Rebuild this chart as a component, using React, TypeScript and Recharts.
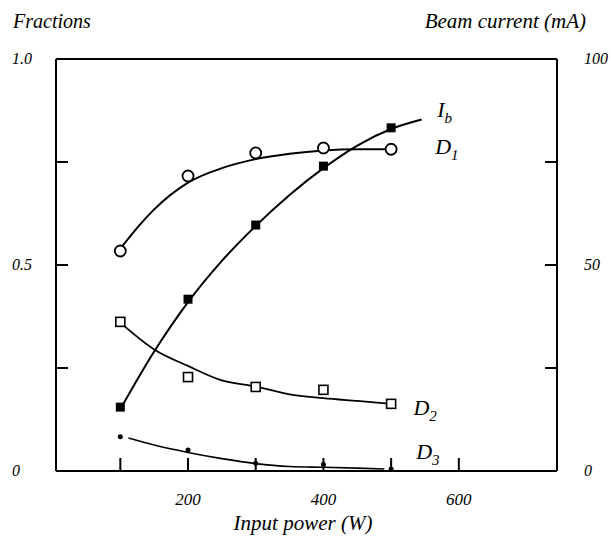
import { ComposedChart, Line, Scatter, XAxis, YAxis, ReferenceLine, ReferenceDot } from "recharts";

// marker positions (x = input power W)
const powers = [100, 200, 300, 400, 500];
const d1Points = [0.534, 0.716, 0.772, 0.784, 0.781];
const d2Points = [0.362, 0.228, 0.204, 0.197, 0.163];
const d3Points = [0.083, 0.051, 0.019, 0.016, 0.005];
const ibPoints = [15.5, 41.7, 59.7, 74.0, 83.3];

// hand-drawn fit curves
const d1CurveW = [100, 130, 150, 200, 250, 300, 350, 400, 450, 500];
const d1CurveV = [0.54, 0.6, 0.635, 0.7, 0.735, 0.757, 0.77, 0.778, 0.781, 0.781];
const ibCurveW = [100, 150, 200, 250, 300, 350, 400, 450, 500, 545];
const ibCurveV = [15, 29, 41, 51, 59.5, 67, 73.5, 79, 83, 85.3];
const d2CurveW = [100, 150, 200, 250, 300, 350, 400, 450, 500];
const d2CurveV = [0.36, 0.295, 0.255, 0.22, 0.205, 0.186, 0.177, 0.17, 0.163];
const d3CurveW = [112, 150, 200, 250, 300, 350, 400, 450, 490];
const d3CurveV = [0.08, 0.063, 0.045, 0.03, 0.018, 0.011, 0.009, 0.007, 0.005];

const xTicks = [100, 200, 300, 400, 500, 600];
const xLabels = [200, 400, 600];
const fracTicks = [0, 0.25, 0.5, 0.75, 1];
const fracLabels: Record<number, string> = { 0: "0", 0.5: "0.5", 1: "1.0" };
const mATicks = [0, 25, 50, 75, 100];
const mALabels: Record<number, string> = { 0: "0", 50: "50", 100: "100" };

const FONT = "'Liberation Serif', 'DejaVu Serif', serif";
const LEFT = 56;
const RIGHT = 557;
const BOTTOM = 471;

const pts = (w: number[], v: number[]) => w.map((x, i) => ({ w: x, v: v[i] }));

const XTick = (p: any) => {
  const val = p.payload.value;
  return (
    <g>
      <line x1={p.x} x2={p.x} y1={BOTTOM} y2={BOTTOM - 13} stroke="#000" strokeWidth={2} />
      {xLabels.includes(val) && (
        <text x={p.x} y={505} textAnchor="middle" fontFamily={FONT} fontStyle="italic" fontSize={17} fill="#000">
          {val}
        </text>
      )}
    </g>
  );
};

const LeftTick = (p: any) => {
  const val = p.payload.value;
  return (
    <g>
      <line x1={LEFT} x2={LEFT + 12} y1={p.y} y2={p.y} stroke="#000" strokeWidth={2} />
      {fracLabels[val] !== undefined && (
        <text x={12} y={p.y + 5} fontFamily={FONT} fontStyle="italic" fontSize={16} fill="#000">
          {fracLabels[val]}
        </text>
      )}
    </g>
  );
};

const RightTick = (p: any) => {
  const val = p.payload.value;
  return (
    <g>
      <line x1={RIGHT - 12} x2={RIGHT} y1={p.y} y2={p.y} stroke="#000" strokeWidth={2} />
      {mALabels[val] !== undefined && (
        <text x={584} y={p.y + 5} fontFamily={FONT} fontStyle="italic" fontSize={16} fill="#000">
          {mALabels[val]}
        </text>
      )}
    </g>
  );
};

const OpenCircle = (p: any) => <circle cx={p.cx} cy={p.cy} r={5.5} fill="#fff" stroke="#000" strokeWidth={1.8} />;
const OpenSquare = (p: any) => <rect x={p.cx - 4.5} y={p.cy - 4.5} width={9} height={9} fill="#fff" stroke="#000" strokeWidth={1.6} />;
const FilledSquare = (p: any) => <rect x={p.cx - 4.5} y={p.cy - 4.5} width={9} height={9} fill="#000" />;
const SmallDot = (p: any) => <circle cx={p.cx} cy={p.cy} r={2.5} fill="#000" />;

const curveLabel = (main: string, sub: string) => (props: any) => {
  const { viewBox } = props;
  return (
    <text x={viewBox.x} y={viewBox.y} fontFamily={FONT} fontStyle="italic" fontSize={22} fill="#000">
      {main}
      <tspan fontSize={15} dy={6}>{sub}</tspan>
    </text>
  );
};

export default function App() {
  return (
    <div style={{ position: "absolute", left: 0, top: 0, width: 611, height: 537, background: "#fff" }}>
      <ComposedChart width={611} height={537} margin={{ top: 59, right: 0, bottom: 0, left: 0 }}>
        <XAxis
          type="number"
          dataKey="w"
          domain={[5, 745]}
          ticks={xTicks}
          height={66}
          axisLine={{ stroke: "#000", strokeWidth: 2 }}
          tickLine={false}
          tick={<XTick />}
          allowDataOverflow
        />
        <YAxis
          yAxisId="frac"
          type="number"
          domain={[0, 1]}
          ticks={fracTicks}
          width={56}
          axisLine={{ stroke: "#000", strokeWidth: 2 }}
          tickLine={false}
          tick={<LeftTick />}
        />
        <YAxis
          yAxisId="mA"
          orientation="right"
          type="number"
          domain={[0, 100]}
          ticks={mATicks}
          width={54}
          axisLine={{ stroke: "#000", strokeWidth: 2 }}
          tickLine={false}
          tick={<RightTick />}
        />
        <ReferenceLine yAxisId="frac" y={1} stroke="#000" strokeWidth={2} />

        <Line yAxisId="frac" data={pts(d1CurveW, d1CurveV)} dataKey="v" type="monotone" stroke="#000" strokeWidth={2} dot={false} isAnimationActive={false} />
        <Line yAxisId="mA" data={pts(ibCurveW, ibCurveV)} dataKey="v" type="monotone" stroke="#000" strokeWidth={2} dot={false} isAnimationActive={false} />
        <Line yAxisId="frac" data={pts(d2CurveW, d2CurveV)} dataKey="v" type="monotone" stroke="#000" strokeWidth={1.8} dot={false} isAnimationActive={false} />
        <Line yAxisId="frac" data={pts(d3CurveW, d3CurveV)} dataKey="v" type="monotone" stroke="#000" strokeWidth={1.6} dot={false} isAnimationActive={false} />

        <Scatter yAxisId="frac" data={pts(powers, d1Points)} dataKey="v" shape={<OpenCircle />} isAnimationActive={false} />
        <Scatter yAxisId="mA" data={pts(powers, ibPoints)} dataKey="v" shape={<FilledSquare />} isAnimationActive={false} />
        <Scatter yAxisId="frac" data={pts(powers, d2Points)} dataKey="v" shape={<OpenSquare />} isAnimationActive={false} />
        <Scatter yAxisId="frac" data={pts(powers, d3Points)} dataKey="v" shape={<SmallDot />} isAnimationActive={false} />

        <ReferenceDot yAxisId="mA" x={568} y={86} r={0} stroke="none" label={curveLabel("I", "b")} ifOverflow="visible" />
        <ReferenceDot yAxisId="frac" x={565} y={0.77} r={0} stroke="none" label={curveLabel("D", "1")} ifOverflow="visible" />
        <ReferenceDot yAxisId="frac" x={533} y={0.135} r={0} stroke="none" label={curveLabel("D", "2")} ifOverflow="visible" />
        <ReferenceDot yAxisId="frac" x={537} y={0.03} r={0} stroke="none" label={curveLabel("D", "3")} ifOverflow="visible" />
      </ComposedChart>
      <svg width={611} height={537} style={{ position: "absolute", left: 0, top: 0, pointerEvents: "none" }}>
        <text x={13} y={28} fontFamily={FONT} fontStyle="italic" fontSize={20} fill="#000">Fractions</text>
        <text x={586} y={28} textAnchor="end" fontFamily={FONT} fontStyle="italic" fontSize={21} fill="#000">Beam current (mA)</text>
        <text x={303} y={530} textAnchor="middle" fontFamily={FONT} fontStyle="italic" fontSize={21} fill="#000">Input power (W)</text>
      </svg>
    </div>
  );
}
